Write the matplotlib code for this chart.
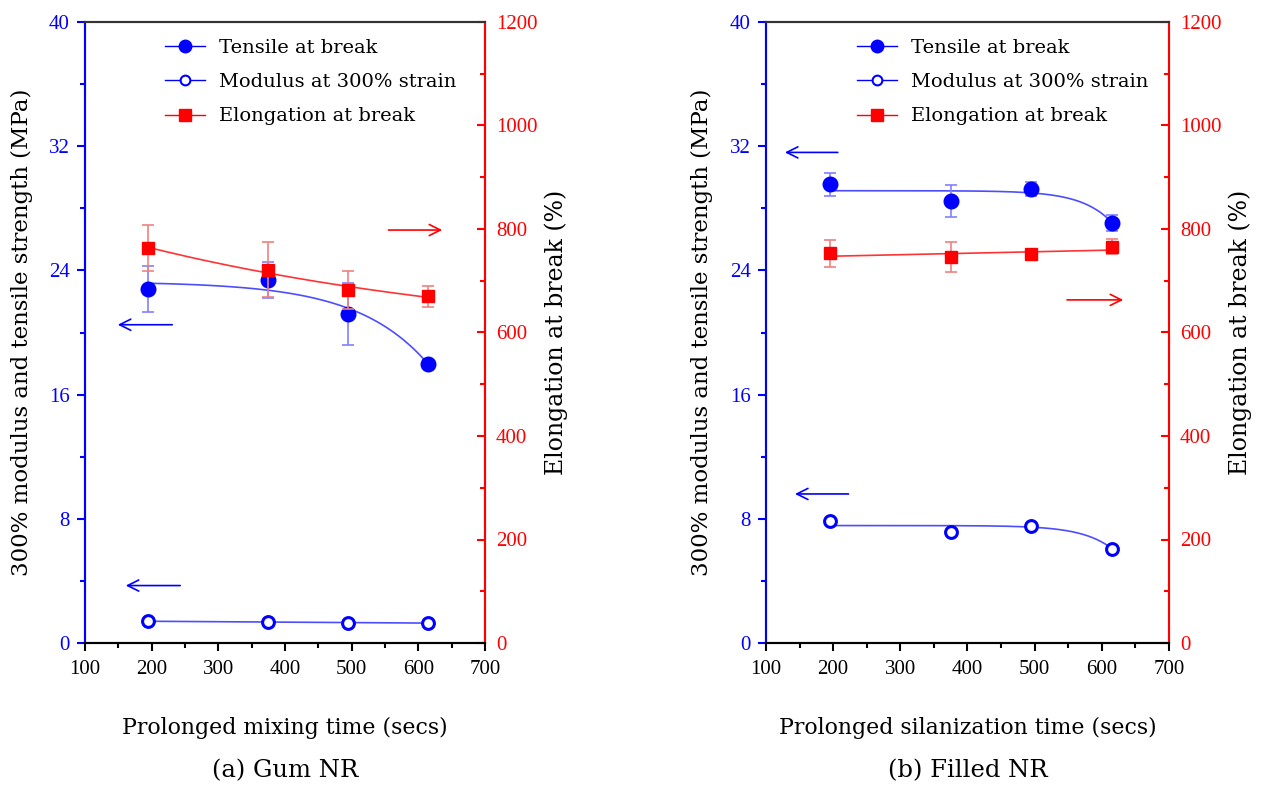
import numpy as np
import matplotlib.pyplot as plt
from matplotlib.lines import Line2D

## DONNEES
time_gum = [195, 375, 495, 615]
tensile_gum = [22.8, 23.4, 21.2, 18.0]
tensile_gum_err = [1.5, 1.15, 2.0, 0.2]
modulus_gum = [1.4, 1.35, 1.32, 1.28]
modulus_gum_err = [0.1, 0.08, 0.08, 0.08]
elong_gum = [763, 721, 682, 670]
elong_gum_err = [44, 53, 37, 20]

time_fill = [195, 375, 495, 615]
tensile_fill = [29.55, 28.47, 29.24, 27.07]
tensile_fill_err = [0.75, 1.0, 0.45, 0.5]
modulus_fill = [7.88, 7.17, 7.54, 6.08]
modulus_fill_err = [0.1, 0.1, 0.15, 0.1]
elong_fill = [753, 745, 751, 766]
elong_fill_err = [26, 29, 5, 14]

xticks = [100, 200, 300, 400, 500, 600, 700]
yticks_left = [0, 8, 16, 24, 32, 40]
yticks_right = [0, 200, 400, 600, 800, 1000, 1200]

BLUE = "#0000ff"
RED = "#ff0000"
SERIF = ["DejaVu Serif"]
TICKFONT = ["Liberation Serif", "DejaVu Serif"]
plt.rcParams["font.family"] = SERIF


## AJUSTEMENTS (moindres carrés sur les données)
def fit_exp(x, y, sign):
    # y = a + b*exp(sign*(x-x0)/t), t cherché sur une grille
    x = np.asarray(x, float)
    y = np.asarray(y, float)
    x0 = x.max() if sign > 0 else x.min()
    best = None
    for t in np.linspace(45, 600, 600):
        A = np.column_stack([np.ones_like(x), np.exp(sign * (x - x0) / t)])
        coef = np.linalg.lstsq(A, y, rcond=None)[0]
        r = np.sum((A @ coef - y) ** 2)
        if best is None or r < best[0]:
            best = (r, t, coef)
    _, t, coef = best
    xs = np.linspace(x.min(), x.max(), 200)
    return xs, coef[0] + coef[1] * np.exp(sign * (xs - x0) / t)


def fit_poly(x, y, deg):
    xs = np.linspace(min(x), max(x), 200)
    return xs, np.polyval(np.polyfit(x, y, deg), xs)


def panel(ax, t, ten, ten_e, mod, mod_e, el, el_e, fits, arrows, xlabel, caption, leg_x):
    ax2 = ax.twinx()
    ekw = dict(ls="none", capsize=4, elinewidth=1.2, capthick=1.2)
    # courbes d'ajustement
    for xs, ys in fits[:2]:
        ax.plot(xs, ys, color="#4d4dff", lw=1.2, zorder=2)
    ax2.plot(*fits[2], color="#ff3333", lw=1.2, zorder=2)
    # points + barres d'erreur
    ax.errorbar(t, ten, yerr=ten_e, marker="o", ms=10.5, color=BLUE, ecolor="#8080ff", zorder=3, **ekw)
    ax.errorbar(t, mod, yerr=mod_e, marker="o", ms=8.5, mfc="white", mec=BLUE, mew=2.2,
                color=BLUE, ecolor="#8080ff", zorder=3, **ekw)
    ax2.errorbar(t, el, yerr=el_e, marker="s", ms=9, color=RED, ecolor="#f08080", zorder=3, **ekw)

    # flèches
    for (x1, y1, x2, y2, c, a) in arrows:
        target = ax if a == 1 else ax2
        target.annotate("", xy=(x2, y2), xytext=(x1, y1),
                        arrowprops=dict(arrowstyle="->", color=c, lw=1.2, mutation_scale=20))

    ax.set_xlim(100, 700)
    ax.set_ylim(0, 40)
    ax2.set_ylim(0, 1200)
    ax.set_xticks(xticks)
    ax.set_xticks(np.arange(150, 700, 100), minor=True)
    ax.set_yticks(yticks_left)
    ax.set_yticks(np.arange(4, 40, 8), minor=True)
    ax2.set_yticks(yticks_right)
    ax2.set_yticks(np.arange(100, 1200, 200), minor=True)

    ax.tick_params(axis="x", which="both", direction="out", labelsize=15, colors="black", width=1.5, pad=6)
    ax.tick_params(axis="x", which="major", length=6)
    ax.tick_params(axis="x", which="minor", length=3.5)
    ax.tick_params(axis="y", which="both", direction="out", labelsize=15, colors=BLUE, width=1.5, pad=5)
    ax.tick_params(axis="y", which="major", length=6)
    ax.tick_params(axis="y", which="minor", length=3.5)
    ax2.tick_params(axis="y", which="both", direction="in", labelsize=15, colors=RED, width=1.5, pad=8)
    ax2.tick_params(axis="y", which="major", length=6)
    ax2.tick_params(axis="y", which="minor", length=3.5)
    for lab in ax.get_xticklabels() + ax.get_yticklabels() + ax2.get_yticklabels():
        lab.set_family(TICKFONT)

    for a in (ax, ax2):
        a.spines["left"].set_color(BLUE)
        a.spines["right"].set_color(RED)
        a.spines["top"].set_color("#333333")
        a.spines["bottom"].set_color("black")
        for s in a.spines.values():
            s.set_linewidth(1.5)

    ax.set_ylabel("300% modulus and tensile strength (MPa)", fontsize=16.5, va="center")
    ax.yaxis.set_label_coords(-0.158, 0.5)
    ax2.set_ylabel("Elongation at break (%)", fontsize=17, va="center")
    ax2.yaxis.set_label_coords(1.178, 0.5)
    ax.set_xlabel(xlabel, fontsize=15.8, va="center")
    ax.xaxis.set_label_coords(0.5, -0.137)
    ax.text(0.5, -0.205, caption, transform=ax.transAxes, ha="center", va="center", fontsize=17.5)

    handles = [
        Line2D([], [], color=BLUE, lw=1, marker="o", ms=9),
        Line2D([], [], color=BLUE, lw=1, marker="o", ms=7, mfc="white", mew=1.5),
        Line2D([], [], color=RED, lw=1, marker="s", ms=8),
    ]
    labels = ["Tensile at break", "Modulus at 300% strain", "Elongation at break"]
    ax.legend(handles, labels, loc="upper left", bbox_to_anchor=(leg_x, 0.985), frameon=False,
              fontsize=14, handlelength=2.06, handletextpad=0.72, labelspacing=0.83, borderaxespad=0)
    return ax2


## FIGURE
fig = plt.figure(figsize=(12.65, 7.87), dpi=100)
ax_a = fig.add_axes([85 / 1265, 1 - 643 / 787, 400 / 1265, 621 / 787])
ax_b = fig.add_axes([766 / 1265, 1 - 643 / 787, 403 / 1265, 621 / 787])

fits_a = [fit_exp(time_gum, tensile_gum, 1), fit_poly(time_gum, modulus_gum, 1),
          fit_exp(time_gum, elong_gum, -1)]
arrows_a = [(235, 20.5, 145, 20.5, BLUE, 1), (247, 3.7, 157, 3.7, BLUE, 1),
            (551, 798, 640, 798, RED, 2)]
panel(ax_a, time_gum, tensile_gum, tensile_gum_err, modulus_gum, modulus_gum_err,
      elong_gum, elong_gum_err, fits_a, arrows_a, "Prolonged mixing time (secs)", "(a) Gum NR", 0.18)

fits_b = [fit_exp(time_fill, tensile_fill, 1), fit_exp(time_fill, modulus_fill, 1),
          fit_poly(time_fill, elong_fill, 1)]
arrows_b = [(211, 31.6, 124, 31.6, BLUE, 1), (227, 9.6, 139, 9.6, BLUE, 1),
            (544, 663, 636, 663, RED, 2)]
panel(ax_b, time_fill, tensile_fill, tensile_fill_err, modulus_fill, modulus_fill_err,
      elong_fill, elong_fill_err, fits_b, arrows_b, "Prolonged silanization time (secs)", "(b) Filled NR", 0.206)

fig.savefig("out.png", dpi=100)
